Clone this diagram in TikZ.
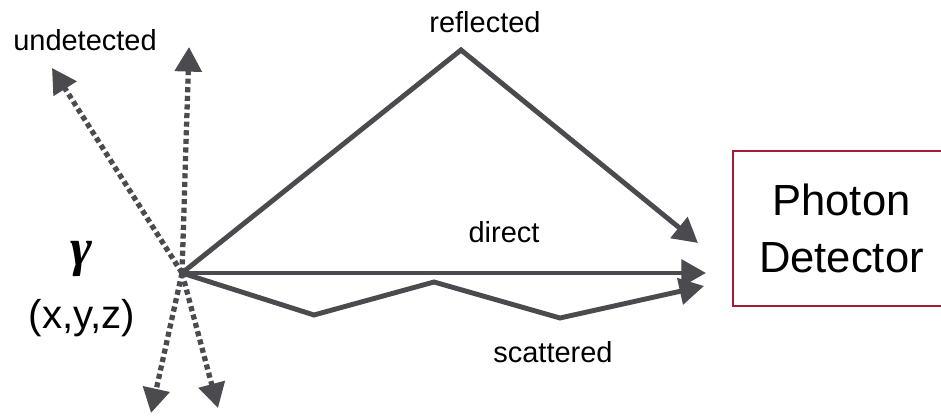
\documentclass[tikz,border=0pt]{standalone}
\usepackage{amsmath,amssymb}
\usepackage{fontspec}
\setmainfont{Liberation Sans}
\newfontfamily\greekfont{Liberation Serif}
\usetikzlibrary{arrows.meta}
\definecolor{raygray}{RGB}{74,74,79}
\definecolor{boxred}{RGB}{163,30,50}
\tikzset{
  ray/.style={draw=raygray, line width=2.8pt, line join=miter,
    -{Triangle[length=14pt,width=15pt]}},
  lost/.style={ray, line width=3pt, dash pattern=on 2.9pt off 2pt},
  lbl/.style={font=\fontsize{16.5}{19}\selectfont, inner sep=0pt},
  detbox/.style={draw=boxred, line width=1.1pt, align=center,
    minimum width=4.34cm, minimum height=3.1cm,
    font=\fontsize{24.8}{32}\selectfont}
}
\begin{document}
\begin{tikzpicture}[x=0.02cm, y=-0.02cm]
         \useasboundingbox (0, 0) rectangle (941, 418);
         \clip (0, 0) rectangle (941, 418);
         \coordinate (O) at (182, 273);
         \node [detbox] (Det) at (841.5, 228.5) {Photon\\Detector};
         \node [lbl] (Und) at (85, 40) {undetected};
         \node [lbl] (Ref) at (485, 22) {reflected};
         \node [lbl] (Dir) at (504, 232) {direct};
         \node [lbl] (Sca) at (553, 352) {scattered};
         \node [inner sep=0pt] (G) at (81, 259) {\fontsize{30}{32}\greekfont\bfseries\itshape γ};
         \node [inner sep=0pt] (XYZ) at (82, 318) {\fontsize{22.9}{26}\selectfont(x,y,z)};
         \coordinate (UL) at (52, 68);
         \coordinate (UP) at (189, 47);
         \coordinate (DL) at (151, 413);
         \coordinate (DR) at (218, 408);
         \coordinate (RA) at (461, 50);
         \coordinate (RB) at (698, 243);
         \coordinate (DB) at (706, 273);
         \coordinate (SA) at (314, 315);
         \coordinate (SB) at (434, 282);
         \coordinate (SC) at (560, 318);
         \coordinate (SD) at (704, 286);
         \draw [lost] (O) -- (UL);
         \draw [lost] (O) -- (UP);
         \draw [lost] (O) -- (DL);
         \draw [lost] (O) -- (DR);
         \draw [ray] (O) -- (RA) -- (RB);
         \draw [ray] (O) -- (DB);
         \draw [ray] (O) -- (SA) -- (SB) -- (SC) -- (SD);
\end{tikzpicture}
\end{document}
